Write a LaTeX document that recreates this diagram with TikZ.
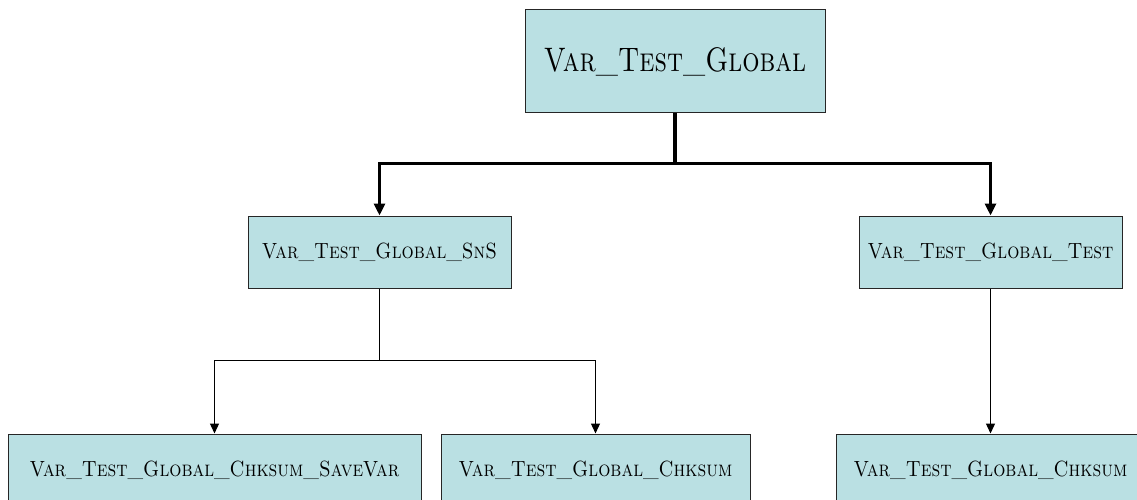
\documentclass[tikz,border=0pt]{standalone}
\usepackage{tikz}
\usetikzlibrary{
  arrows.meta,
  positioning,
}
\definecolor{boxblue}{RGB}{186,224,227}
\newcommand{\vname}[1]{\scalebox{0.87}[1]{#1}}
\newcommand{\vtitle}[1]{\scalebox{0.8}[1]{#1}}
\tikzstyle{vbox} = [
  rectangle,
  draw=black!85,
  line width=1pt,
  fill=boxblue,
  minimum height=72pt,
  inner sep=0pt,
  font=\fontsize{22}{26}\selectfont\scshape,
]
\tikzstyle{thickarrow} = [
  -{Triangle[length=12pt,width=11pt]},
  line width=3.5pt,
]
\tikzstyle{thinarrow} = [
  -{Triangle[length=10pt,width=9pt]},
  line width=1.3pt,
]

\begin{document}
\begin{tikzpicture}[x=1pt,y=1pt,node distance=102pt and 0pt]
      \useasboundingbox (0,0) rectangle (1137,-500);

      \node[vbox,minimum width=300pt,minimum height=103pt,font=\fontsize{34}{40}\selectfont\scshape] (vtg) at (675,-61.5) {\vtitle{Var\_Test\_Global}};

      \node[vbox,minimum width=263pt,xshift=-295.5pt] (sns) [below=of vtg] {\vname{Var\_Test\_Global\_SnS}};
      \node[vbox,minimum width=263pt,xshift=315.5pt]  (tst) [below=of vtg] {\vname{Var\_Test\_Global\_Test}};

      \node[vbox,minimum width=413pt,xshift=-165pt] (save) [below=145pt of sns] {\vname{Var\_Test\_Global\_Chksum\_SaveVar}};
      \node[vbox,minimum width=309pt,xshift=216pt]  (chk1) [below=145pt of sns] {\vname{Var\_Test\_Global\_Chksum}};
      \node[vbox,minimum width=308pt]               (chk2) [below=145pt of tst] {\vname{Var\_Test\_Global\_Chksum}};

      \draw[thickarrow] (vtg.south) -- ++(0,-50) -| (sns.north);
      \draw[thickarrow] (vtg.south) -- ++(0,-50) -| (tst.north);

      \draw[thinarrow] (sns.south) -- ++(0,-72) -| (save.north);
      \draw[thinarrow] (sns.south) -- ++(0,-72) -| (chk1.north);
      \draw[thinarrow] (tst.south) -- (chk2.north);
    \end{tikzpicture}
\end{document}
